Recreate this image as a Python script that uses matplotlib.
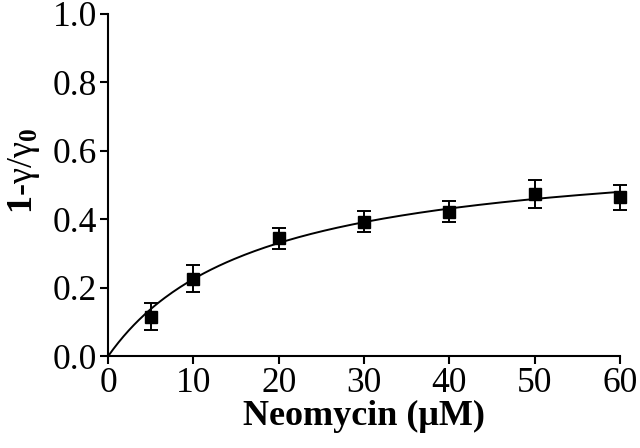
import numpy as np
import matplotlib
matplotlib.use("Agg")
import matplotlib.pyplot as plt

# neomycin concentration (uM) and measured 1 - gamma/gamma0
conc = [5, 10, 20, 30, 40, 50, 60]
resp = [0.115, 0.226, 0.344, 0.393, 0.422, 0.474, 0.464]
err = [0.040, 0.040, 0.030, 0.031, 0.030, 0.042, 0.037]

# hyperbolic binding fit: Bmax * c / (Kd + c)
fit_bmax = 0.62
fit_kd = 17.5

xticks = [0, 10, 20, 30, 40, 50, 60]
yticks = [0.0, 0.2, 0.4, 0.6, 0.8, 1.0]

plt.rcParams["font.family"] = ["Liberation Serif", "DejaVu Serif"]
plt.rcParams["mathtext.fontset"] = "custom"
plt.rcParams["mathtext.rm"] = "Liberation Serif"
plt.rcParams["mathtext.it"] = "Liberation Serif:italic"
plt.rcParams["mathtext.bf"] = "Liberation Serif:bold"

fig = plt.figure(figsize=(6.4, 4.48), dpi=100)
ax = fig.add_axes([0.169, 0.205, 0.800, 0.764])

xs = np.linspace(0, 60, 200)
ax.plot(xs, fit_bmax * xs / (fit_kd + xs), color="black", lw=1.4, clip_on=False)
ax.errorbar(conc, resp, yerr=err, fmt="s", color="black", ms=8.5,
            ecolor="black", elinewidth=1.4, capsize=5, capthick=1.4, clip_on=False)

ax.set_xlim(0, 60)
ax.set_ylim(0, 1.0)
ax.set_xticks(xticks)
ax.set_yticks(yticks)
ax.set_xticklabels([str(t) for t in xticks])
ax.set_yticklabels(["%.1f" % t for t in yticks])
ax.tick_params(labelsize=25.5, width=1.5, length=6, direction="out", pad=2)

for s in ["top", "right"]:
    ax.spines[s].set_visible(False)
for s in ["left", "bottom"]:
    ax.spines[s].set_linewidth(1.5)

ax.set_xlabel("Neomycin (\u03bcM)", fontsize=26, fontweight="bold", labelpad=0)
ax.set_ylabel(r"$\mathbf{1}$-$\mathrm{\gamma}/\mathrm{\gamma}_{\mathbf{0}}$", fontsize=26,
              fontweight="bold")
ax.yaxis.set_label_coords(-0.13, 0.54)

fig.savefig("out.png", dpi=100)
